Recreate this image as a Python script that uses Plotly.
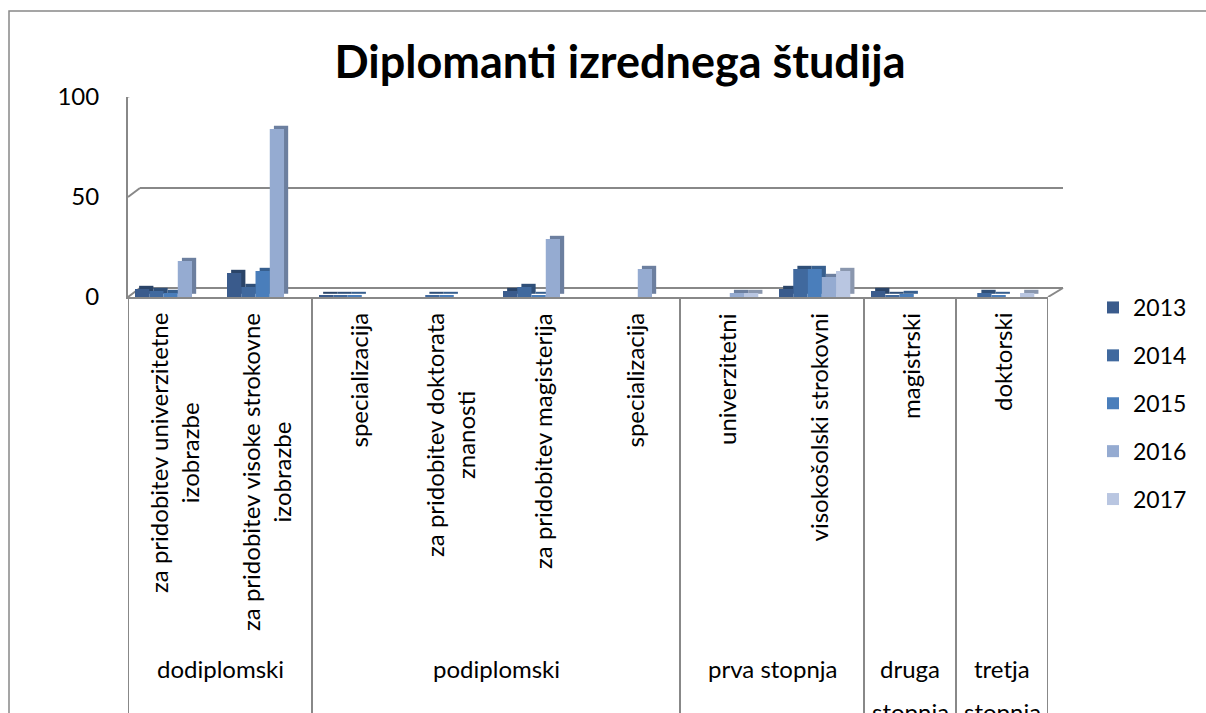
import plotly.graph_objects as go

W, H = 1206, 713

# ---------------- data ----------------
categories = [
    "za pridobitev univerzitetne<br>izobrazbe",
    "za pridobitev visoke strokovne<br>izobrazbe",
    "specializacija",
    "za pridobitev doktorata<br>znanosti",
    "za pridobitev magisterija",
    "specializacija",
    "univerzitetni",
    "visokošolski strokovni",
    "magistrski",
    "doktorski",
]
groups = ["dodiplomski", "podiplomski", "prva stopnja", "druga stopnja", "tretja stopnja"]
group_sizes = [2, 4, 2, 1, 1]

years = ["2013", "2014", "2015", "2016", "2017"]
v2013 = [4, 12, 1, 0, 3, 0, 0, 4, 3, 0]
v2014 = [3, 5, 1, 1, 5, 0, 0, 14, 1, 2]
v2015 = [2, 13, 1, 1, 1, 0, 0, 14, 1.5, 1]
v2016 = [18, 84, 0, 0, 29, 14, 2, 10, 0, 0]
v2017 = [0, 0, 0, 0, 0, 0, 2, 13, 0, 2]
series = [v2013, v2014, v2015, v2016, v2017]

y_ticks = [0, 50, 100]

# ---------------- style ----------------
front_colors = ["#3A5B8C", "#40699E", "#4A7EBB", "#95ABD1", "#B9C6E1"]
side_colors = ["#2A4468", "#2F4F78", "#375F8E", "#6C7F9F", "#8A97AE"]
FONT = "Lato"
GRAY = "#888888"

def px_x(p):
    return p / W

def px_y(p):
    return 1 - p / H

x_left, x_right = 128, 1048
y_top, y_bot = 97, 297

fig = go.Figure()

x_idx = list(range(len(categories)))
bw = 0.155
start = -0.424
ddx = 0.045   # depth offset in category units
ddy = 1.6     # depth offset in value units

for i, (yr, vals) in enumerate(zip(years, series)):
    off = start + i * bw
    fig.add_trace(go.Bar(
        x=x_idx, y=vals, base=[ddy] * len(vals), offset=off + ddx, width=bw,
        marker=dict(color=side_colors[i], line=dict(width=0)),
        showlegend=False, hoverinfo="skip",
    ))
    fig.add_trace(go.Bar(
        x=x_idx, y=vals, offset=off, width=bw, name=yr, legendgroup=yr,
        marker=dict(color=front_colors[i], line=dict(width=0)),
    ))

shapes = []
# outer chart border
shapes.append(dict(type="rect", xref="paper", yref="paper",
                   x0=px_x(9), x1=1.05, y0=-0.05, y1=px_y(11),
                   line=dict(color=GRAY, width=1.5), layer="below"))
# back wall gridlines + left wall slants
back_dx = 12
back_dy = 4.5
for v in y_ticks:
    shapes.append(dict(type="line", xref="paper", yref="y",
                       x0=px_x(x_left + back_dx), x1=px_x(x_right + 15),
                       y0=v + back_dy, y1=v + back_dy,
                       line=dict(color=GRAY, width=2), layer="below"))
    shapes.append(dict(type="line", xref="paper", yref="y",
                       x0=px_x(x_left), x1=px_x(x_left + back_dx),
                       y0=v, y1=v + back_dy,
                       line=dict(color=GRAY, width=2), layer="below"))
# right floor slant
shapes.append(dict(type="line", xref="paper", yref="y",
                   x0=px_x(x_right), x1=px_x(x_right + 15),
                   y0=0, y1=back_dy, line=dict(color=GRAY, width=2), layer="below"))
# group dividers
bounds = [0]
for s in group_sizes:
    bounds.append(bounds[-1] + s)
for b in bounds:
    shapes.append(dict(type="line", xref="x", yref="paper",
                       x0=b - 0.5, x1=b - 0.5, y0=-0.05, y1=px_y(y_bot),
                       line=dict(color=GRAY, width=2)))

annotations = []
# inner category labels (rotated)
for i, c in enumerate(categories):
    annotations.append(dict(x=i, y=px_y(311), xref="x", yref="paper",
                            text=c, textangle=-90, showarrow=False,
                            xanchor="center", yanchor="top",
                            font=dict(family=FONT, size=24, color="black")))
# group labels
for g, s, b in zip(groups, group_sizes, bounds[:-1]):
    cx = b + (s - 1) / 2
    if s == 1:
        words = g.split(" ")
        lines = [(words[0], 668), (" ".join(words[1:]), 711)]
    else:
        lines = [(g, 668)]
    for t, py in lines:
        annotations.append(dict(x=cx, y=px_y(py), xref="x", yref="paper",
                                text=t, showarrow=False,
                                xanchor="center", yanchor="middle",
                                font=dict(family=FONT, size=24, color="black")))

fig.update_layout(
    width=W, height=H, autosize=False,
    margin=dict(l=0, r=0, t=0, b=0, autoexpand=False),
    paper_bgcolor="white", plot_bgcolor="rgba(0,0,0,0)",
    barmode="overlay",
    title=dict(text="<b>Diplomanti izrednega študija</b>",
               x=px_x(620), xanchor="center", y=px_y(62), yanchor="middle",
               font=dict(family=FONT, size=45, color="black")),
    xaxis=dict(domain=[px_x(x_left), px_x(x_right)], range=[-0.5, len(categories) - 0.5],
               showticklabels=False, showgrid=False, zeroline=False, automargin=False,
               showline=True, linecolor=GRAY, linewidth=2, ticks=""),
    yaxis=dict(domain=[px_y(y_bot), px_y(y_top)], range=[0, 100],
               tickvals=y_ticks, showgrid=False, zeroline=False, automargin=False,
               showline=True, linecolor=GRAY, linewidth=2, ticks="",
               ticklabelstandoff=22,
               tickfont=dict(family=FONT, size=24, color="black")),
    legend=dict(x=px_x(1093), xanchor="left", y=px_y(286), yanchor="top",
                font=dict(family=FONT, size=23, color="black"),
                tracegroupgap=15, bgcolor="rgba(0,0,0,0)"),
    shapes=shapes,
    annotations=annotations,
    showlegend=True,
)

fig.write_html("out.html", config={"displayModeBar": False},
               post_script="document.body.style.margin='0';")
